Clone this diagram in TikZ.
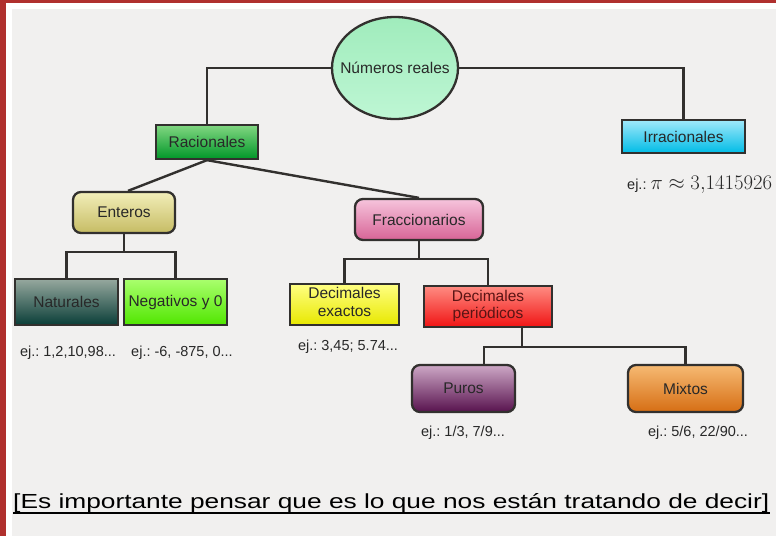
\documentclass[tikz,border=0pt]{standalone}
\usepackage{fontspec}
\setmainfont{Liberation Sans}
\usepackage{graphicx}
\usetikzlibrary{shapes.geometric}
\frenchspacing
\definecolor{bggray}{RGB}{241,240,239}
\definecolor{frame}{RGB}{176,48,46}
\definecolor{edge}{RGB}{50,48,46}
\definecolor{txt}{RGB}{40,40,40}
\tikzset{
  box/.style={draw=edge, line width=2.3pt, inner sep=0pt, text=txt, align=center,
              font=\fontsize{15.5}{16}\selectfont},
  rbox/.style={box, rounded corners=8pt},
  conn/.style={draw=edge, line width=2.4pt},
  ex/.style={inner sep=0pt, text=txt, font=\fontsize{14.5}{15}\selectfont}
}
\begin{document}
\frenchspacing
\begin{tikzpicture}[x=1pt,y=-1pt]
\useasboundingbox (0,0) rectangle (776,536);
\fill[bggray] (0,0) rectangle (776,536);
\fill[white] (6,3) rectangle (776,9);
\fill[white] (6,3) rectangle (12,536);
\fill[frame] (0,0) rectangle (776,3);
\fill[frame] (0,0) rectangle (6,536);

\coordinate (j1) at (124,252);
\coordinate (j2) at (419,259);
\coordinate (j3) at (522,347);

% nodes
\node[ellipse, box, inner xsep=-12pt, minimum width=126pt, minimum height=102pt,
      top color={rgb,255:red,160;green,236;blue,188}, bottom color={rgb,255:red,190;green,246;blue,212}]
      (ell) at (395,68) {Números reales};
\node[box, minimum width=102pt, minimum height=34pt,
      top color={rgb,255:red,130;green,215;blue,130}, bottom color={rgb,255:red,0;green,150;blue,40}]
      (rac) at (207,142) {Racionales};
\node[box, minimum width=123pt, minimum height=33pt,
      top color={rgb,255:red,160;green,232;blue,250}, bottom color={rgb,255:red,0;green,188;blue,230}]
      (irr) at (683.5,136.5) {Irracionales};
\node[rbox, minimum width=102pt, minimum height=41pt,
      top color={rgb,255:red,242;green,238;blue,185}, bottom color={rgb,255:red,198;green,188;blue,100}]
      (ent) at (124,212.5) {Enteros};
\node[rbox, minimum width=128pt, minimum height=41pt,
      top color={rgb,255:red,246;green,196;blue,220}, bottom color={rgb,255:red,215;green,100;blue,150}]
      (fra) at (419,219.5) {Fraccionarios};
\node[box, minimum width=103pt, minimum height=46pt,
      top color={rgb,255:red,150;green,168;blue,158}, bottom color={rgb,255:red,10;green,62;blue,56}]
      (nat) at (66.5,302) {Naturales};
\node[box, minimum width=103pt, minimum height=46pt,
      top color={rgb,255:red,170;green,255;blue,110}, bottom color={rgb,255:red,80;green,230;blue,0}]
      (neg) at (175.5,302) {Negativos y 0};
\node[box, minimum width=109pt, minimum height=41pt,
      top color={rgb,255:red,255;green,255;blue,130}, bottom color={rgb,255:red,232;green,232;blue,0}]
      (dex) at (344.5,304.5) {\raisebox{1pt}{\begin{tabular}{@{}c@{}}Decimales\\[2pt]exactos\end{tabular}}};
\node[box, minimum width=128pt, minimum height=41pt, text={rgb,255:red,90;green,20;blue,20},
      top color={rgb,255:red,255;green,140;blue,130}, bottom color={rgb,255:red,240;green,20;blue,20}]
      (dper) at (488,306.5) {\begin{tabular}{@{}c@{}}Decimales\\[1pt]periódicos\end{tabular}};
\node[rbox, minimum width=103pt, minimum height=47pt,
      top color={rgb,255:red,205;green,168;blue,198}, bottom color={rgb,255:red,88;green,18;blue,78}]
      (pur) at (463.5,388.5) {Puros};
\node[rbox, minimum width=115pt, minimum height=47pt,
      top color={rgb,255:red,246;green,186;blue,115}, bottom color={rgb,255:red,214;green,110;blue,20}]
      (mix) at (685.5,388.5) {Mixtos};

% example labels
\node[ex, anchor=base west] (irrex) at (627,189) {ej.: \fontsize{22}{22}\selectfont$\pi\approx3{,}1415926$};
\node[ex] (natex) at (68,353) {ej.: 1,2,10,98...};
\node[ex] (negex) at (182,353) {ej.: -6, -875, 0...};
\node[ex] (dexex) at (348,347) {ej.: 3,45; 5.74...};
\node[ex] (purex) at (463,433) {ej.: 1/3, 7/9...};
\node[ex] (mixex) at (698,433) {ej.: 5/6, 22/90...};

% connectors
\draw[conn] (ell.west) -| (rac.north);
\draw[conn] (ell.east) -| (irr.north);
\draw[conn] (rac.south) -- ([xshift=4pt]ent.north);
\draw[conn] (rac.south) -- (fra.north);
\draw[conn] (ent.south) -- (j1);
\draw[conn] (nat.north) |- (j1) -| (neg.north);
\draw[conn] (fra.south) -- (j2);
\draw[conn] (dex.north) |- (j2) -| (dper.north);
\draw[conn] (dper.south -| j3) -- (j3);
\draw[conn] ([xshift=20.5pt]pur.north) |- (j3) -| (mix.north);

% bottom remark
\node[anchor=base west, inner sep=0pt] (note) at (13,508)
  {\resizebox{756pt}{15pt}{[Es importante pensar que es lo que nos están tratando de decir]}};
\draw[line width=1.4pt, black] (note.base west) ++(0,5) -- ++(757,0);
\end{tikzpicture}
\end{document}
